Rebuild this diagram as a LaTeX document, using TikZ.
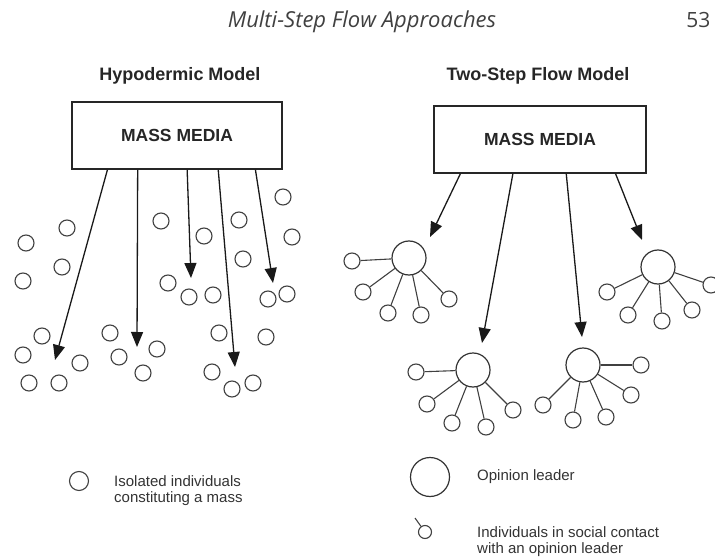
\documentclass[tikz,border=0pt]{standalone}
\usepackage{fontspec}
\setmainfont{Liberation Sans}
\newfontfamily\headfont{Open Sans}
\usetikzlibrary{calc,arrows.meta}
\tikzset{mediabox/.style={draw=black!85,line width=1.4pt,minimum width=210pt,minimum height=67pt,font=\fontsize{17.5}{20}\selectfont\bfseries,text=black!85}}
\tikzset{indiv/.style={circle,draw=black!75,line width=1.1pt,minimum size=16pt,inner sep=0pt}}
\tikzset{leader/.style={circle,draw=black!80,line width=1.2pt,minimum size=34pt,inner sep=0pt}}
\tikzset{flow/.style={-{Triangle[length=15pt,width=12pt]},line width=1.3pt,draw=black!90}}
\tikzset{tie/.style={draw=black!75,line width=1.1pt}}
\tikzset{heading/.style={font=\fontsize{18}{20}\selectfont\bfseries,anchor=base,text=black!85}}
\tikzset{legend/.style={font=\fontsize{15}{16.5}\selectfont,align=left,inner sep=0pt,text=black!80}}

\begin{document}
\begin{tikzpicture}[x=1pt,y=-1pt]
  \useasboundingbox (0,0) rectangle (715,559);
  % running head
  \node[font=\headfont\itshape\fontsize{22}{26}\selectfont,text=black!75,anchor=base] (runhead) at (362,28) {Multi-Step Flow Approaches};
  \node[font=\headfont\fontsize{21}{25}\selectfont,text=black!75,anchor=base east] (pageno) at (714,28) {53};

  % Hypodermic model
  \node[heading] (hhead) at (180,81) {Hypodermic Model};
  \node[mediabox] (hbox) at (177,135.5) {MASS MEDIA};
  \foreach \x/\y [count=\n] in {283/197,161/221,239/220,67/228,204/236,292/237,26/243,243/259,62/267,23/281,
      168/283,189/297,213/295,287/294,268/299,42/336,110/333,219/333,266/337,23/355,
      157/349,119/357,80/363,143/373,212/372,29/383,59/383,253/383,232/389}
    \node[indiv] (i\n) at (\x,\y) {};
  \foreach \f/\x/\y [count=\n] in {0.171/55/360,0.314/137/347,0.548/191/278,0.695/235/367,0.871/273/283}
  {
    \coordinate (hdart\n) at (\x,\y);
    \draw[flow] ($(hbox.south west)!\f!(hbox.south east)$) -- (hdart\n);
  }

  % Two-step flow model
  \node[heading] (thead) at (538,81) {Two-Step Flow Model};
  \node[mediabox,minimum width=212pt] (tbox) at (540,139.5) {MASS MEDIA};
  \node[leader] (la) at (409,258) {};
  \node[leader] (lb) at (658,267) {};
  \node[leader] (lc) at (473,370) {};
  \node[leader] (ld) at (583,365) {};
  \foreach \l/\s/\x/\y in {la/1/352/261,la/2/363/292,la/3/388/313,la/4/421/315,la/5/449/299,
      lb/1/711/285,lb/2/607/292,lb/3/628/315,lb/4/662/321,lb/5/692/310,
      lc/1/416/372,lc/2/427/404,lc/3/452/423,lc/4/486/427,lc/5/513/410,
      ld/1/641/365,ld/2/543/405,ld/3/573/420,ld/4/606/417,ld/5/631/395}
  {
    \node[indiv] (\l\s) at (\x,\y) {};
    \draw[tie] (\l) -- (\l\s);
  }
  \foreach \f/\x/\y [count=\n] in {0.127/430/237,0.373/482/343,0.623/582/337,0.854/642/240}
  {
    \coordinate (tdart\n) at (\x,\y);
    \draw[flow] ($(tbox.south west)!\f!(tbox.south east)$) -- (tdart\n);
  }

  % legend
  \node[indiv,minimum size=19pt] (keymass) at (79,481) {};
  \node[legend,anchor=north west] (keymasstext) at (114,475) {Isolated individuals\\constituting a mass};
  \node[leader,minimum size=39pt] (keylead) at (430,477) {};
  \node[legend,anchor=base west] (keyleadtext) at (477,480) {Opinion leader};
  \node[indiv,minimum size=13pt] (keytie) at (425,532) {};
  \coordinate (tieend) at (415,518);
  \draw[tie] (tieend) -- (keytie);
  \node[legend,anchor=north west] (keytietext) at (477,526) {Individuals in social contact\\with an opinion leader};
\end{tikzpicture}
\end{document}
